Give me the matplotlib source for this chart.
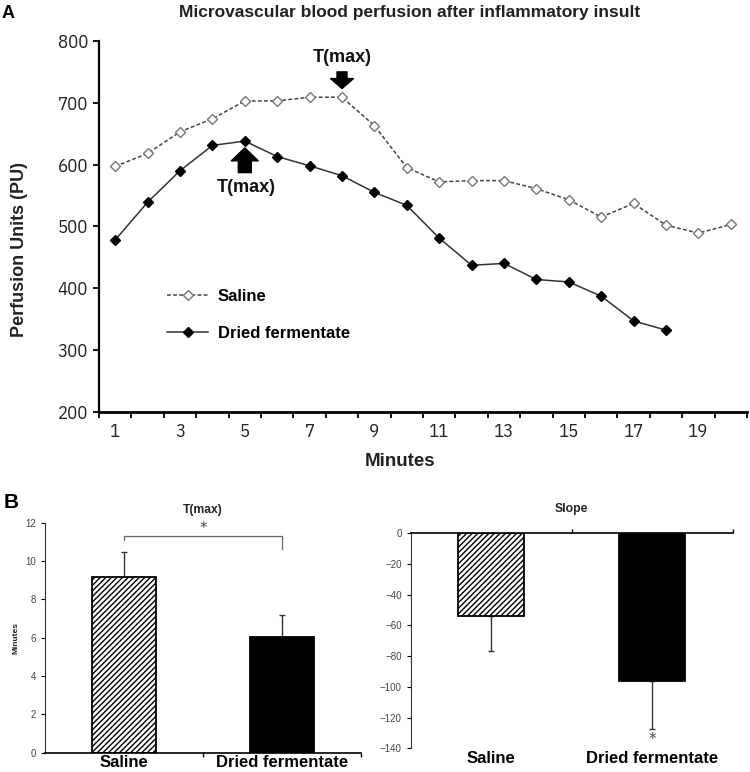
import matplotlib
matplotlib.use("Agg")
import matplotlib.pyplot as plt

# --- données ---
minutes = list(range(1, 21))
saline = [597, 618, 653, 674, 703, 703, 709, 709, 663, 595,
          572, 574, 574, 561, 543, 515, 537, 502, 489, 503]
fermentate_min = list(range(1, 19))
fermentate = [478, 539, 590, 631, 638, 613, 598, 582, 555, 534,
              481, 437, 440, 414, 410, 387, 347, 332]

groups = ["Saline", "Dried fermentate"]
tmax_mean = [9.15, 6.02]
tmax_err = [1.3, 1.15]
slope_mean = [-53.6, -96.0]
slope_err = [23.0, 31.4]

NARROW = ["IBM Plex Sans Condensed", "DejaVu Sans"]
ARIAL = ["Liberation Sans", "DejaVu Sans"]

fig = plt.figure(figsize=(7.5, 7.72), dpi=100)

# --- Panneau A ---
ax = fig.add_axes([99 / 750, 1 - 411.7 / 772, 648 / 750, 370.7 / 772])
ax.plot(minutes, saline, linestyle=(0, (2.5, 1.5)), color="#444444", lw=1.1,
        marker="D", ms=5.0, mfc="white", mec="#777777", mew=1.0, label="Saline")
ax.plot(fermentate_min, fermentate, linestyle="-", color="#333333", lw=1.1,
        marker="D", ms=5.2, mfc="black", mec="black", label="Dried fermentate")
ax.set_xlim(0.5, 20.5)
ax.set_ylim(200, 800)
ax.set_yticks(range(200, 801, 100))
ax.set_xticks([x + 0.5 for x in range(0, 21)])
ax.set_xticklabels([])
ax.set_xticks(list(range(1, 20, 2)), minor=True)
ax.set_xticklabels([str(x) for x in range(1, 20, 2)], minor=True)
ax.tick_params(axis="x", which="minor", length=0, pad=8)
ax.tick_params(axis="x", which="major", length=4, width=1.3, direction="out")
ax.tick_params(axis="y", length=4, width=1.3, direction="out", pad=4)
for lab in ax.get_xticklabels(minor=True) + ax.get_yticklabels():
    lab.set_family(NARROW)
    lab.set_stretch("condensed")
    lab.set_fontsize(13.5)
    lab.set_color("#222222")
ax.spines["top"].set_visible(False)
ax.spines["right"].set_visible(False)
ax.spines["left"].set_linewidth(1.6)
ax.spines["bottom"].set_linewidth(2.0)

ax.set_xlabel("Minutes", family=ARIAL, fontsize=13.5, fontweight="bold", color="#222222")
ax.xaxis.set_label_coords(0.464, -0.112)
ax.set_ylabel("Perfusion Units (PU)", family=ARIAL, fontsize=13, fontweight="bold",
              color="#222222")
ax.yaxis.set_label_coords(-0.11, 0.437)

# flèches T(max)
ax.annotate("", xy=(8, 723), xytext=(8, 750),
            arrowprops=dict(arrowstyle="simple,head_width=1.03,head_length=0.45,tail_width=0.45",
                            color="black", mutation_scale=16, shrinkA=0, shrinkB=0))
ax.text(8, 774, "T(max)", ha="center", va="center", family=ARIAL, fontsize=13,
        fontweight="bold", color="#111111")
ax.annotate("", xy=(5, 627), xytext=(5, 587),
            arrowprops=dict(arrowstyle="simple,head_width=1.02,head_length=0.49,tail_width=0.49",
                            color="black", mutation_scale=19, shrinkA=0, shrinkB=0))
ax.text(5.05, 563, "T(max)", ha="center", va="center", family=ARIAL, fontsize=13,
        fontweight="bold", color="#111111")

leg = ax.legend(loc="upper left", bbox_to_anchor=(0.1045, 0.332), frameon=False,
                borderpad=0, borderaxespad=0, handlelength=2.5, handletextpad=0.55,
                labelspacing=1.34, prop=dict(family=ARIAL, size=12, weight="bold"))

fig.text(410 / 750, 1 - 13 / 772, "Microvascular blood perfusion after inflammatory insult",
         ha="center", va="center", family=ARIAL, fontsize=12.5, fontweight="bold",
         color="#222222")
fig.text(2 / 750, 1 - 13 / 772, "A", ha="left", va="center", family=ARIAL,
         fontsize=13, fontweight="bold")
fig.text(4 / 750, 1 - 503 / 772, "B", ha="left", va="center", family=ARIAL,
         fontsize=15, fontweight="bold")

# --- Panneau B : T(max) ---
xpos = [1, 2]
bx = fig.add_axes([45 / 750, 1 - 752.7 / 772, 316 / 750, 230 / 772])
bx.bar(xpos, tmax_mean, width=0.41, color=["white", "black"], edgecolor="black",
       hatch=["//////", ""], linewidth=1.3, zorder=2)
bx.errorbar(xpos, tmax_mean, yerr=[[0, 0], tmax_err], fmt="none", ecolor="#333333",
            elinewidth=1.0, capsize=2, zorder=1)
bx.set_xlim(0.5, 2.5)
bx.set_ylim(0, 12)
bx.set_yticks(range(0, 13, 2))
bx.set_title("T(max)", family=ARIAL, fontsize=8.7, fontweight="bold", color="#222222",
             pad=7)
bx.set_ylabel("Minutes", family=ARIAL, fontsize=6, fontweight="bold", color="#222222")
bx.plot([1, 1, 2, 2], [11.1, 11.3, 11.3, 10.65], color="#666666", lw=0.9)
bx.text(1.5, 11.7, "*", ha="center", va="center", fontsize=11, color="#444444")

# --- Panneau B : pente ---
cx = fig.add_axes([410.7 / 750, 1 - 748.3 / 772, 322 / 750, 215 / 772])
cx.bar(xpos, slope_mean, width=0.41, color=["white", "black"], edgecolor="black",
       hatch=["//////", ""], linewidth=1.3, zorder=2)
cx.errorbar(xpos, slope_mean, yerr=[slope_err, [0, 0]], fmt="none", ecolor="#333333",
            elinewidth=1.0, capsize=2, zorder=1)
cx.set_xlim(0.5, 2.5)
cx.set_ylim(-140, 0)
cx.set_yticks(range(-140, 1, 20))
cx.set_title("Slope", family=ARIAL, fontsize=8.7, fontweight="bold", color="#222222",
             pad=15)
cx.text(2, -134, "*", ha="center", va="center", fontsize=11, color="#444444")

for a, top_axis in ((bx, False), (cx, True)):
    a.set_xticks([1.5, 2.5])
    a.set_xticklabels([])
    a.set_xticks(xpos, minor=True)
    a.set_xticklabels(groups, minor=True, family=ARIAL, fontsize=12, fontweight="bold")
    a.tick_params(axis="x", which="minor", length=0, pad=2, bottom=True, top=False)
    a.tick_params(axis="x", which="major", length=3, width=1.0, direction="out",
                  bottom=not top_axis, top=top_axis)
    a.tick_params(axis="y", length=3, width=0.8, direction="out", labelsize=7,
                  labelcolor="#444444")
    for lab in a.get_yticklabels():
        lab.set_family(ARIAL)
    a.spines["right"].set_visible(False)
    a.spines["left"].set_color("#333333")
    if top_axis:
        a.spines["bottom"].set_visible(False)
        a.spines["top"].set_linewidth(1.2)
    else:
        a.spines["top"].set_visible(False)
        a.spines["bottom"].set_linewidth(1.2)

fig.savefig("out.png", dpi=100)
